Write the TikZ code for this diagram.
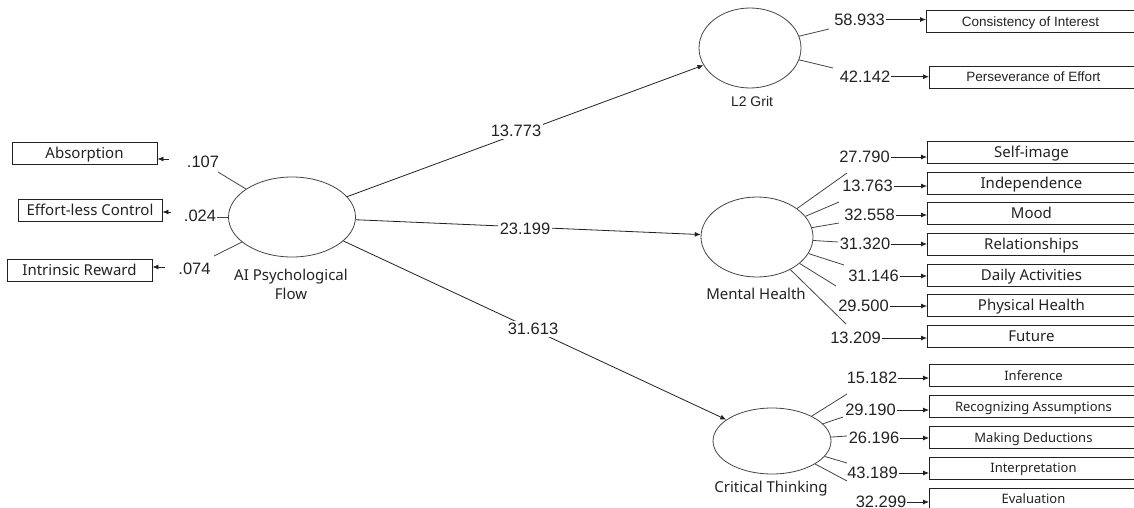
\documentclass[tikz,border=0pt]{standalone}
\usepackage{fontspec}
\setmainfont{Noto Sans}
\newfontfamily\arialf{Liberation Sans}
\usetikzlibrary{shapes.geometric,arrows.meta}
\definecolor{txt}{HTML}{222222}
\definecolor{ln}{HTML}{444444}
\begin{document}
\begin{tikzpicture}[x=1pt,y=-1pt,
  lat/.style={ellipse, draw=ln, line width=0.8pt, inner sep=0pt},
  lbox/.style={draw=txt, line width=0.9pt, inner sep=0pt, minimum height=22pt, text height=10.7pt, text depth=0pt, text=txt, font=\fontsize{15}{18}\selectfont},
  rbox/.style={draw=txt, line width=0.9pt, inner sep=0pt, minimum height=22pt, minimum width=208pt, anchor=west, text height=10.7pt, text depth=0pt, text=txt, font=\fontsize{15}{18}\selectfont},
  gbox/.style={rbox, text height=9.7pt, font=\arialf\fontsize{13.5}{16}\selectfont},
  cbox/.style={rbox, text height=9.3pt, font=\fontsize{13}{16}\selectfont},
  num/.style={inner sep=1pt, text=txt, font=\arialf\fontsize{16.5}{19}\selectfont},
  lab/.style={inner sep=0pt, text=txt, align=center, font=\fontsize{15}{19}\selectfont},
  arr/.style={-{Latex[length=6pt,width=5pt]}, draw=txt, line width=0.8pt},
  stub/.style={draw=ln, line width=0.8pt}
]
\useasboundingbox (0,0) rectangle (1134,508);
\clip (0,0) rectangle (1134,508);

% ---------- AI Psychological Flow ----------
\node[lat, minimum width=127pt, minimum height=80pt] (ai) at (292,217) {};
\node[lab] (ailab) at (291,284) {AI Psychological\\Flow};

\node[lbox, minimum width=145pt] (abs) at (84.5,153) {Absorption};
\node[lbox, minimum width=144pt] (elc) at (90,210) {Effort-less Control};
\node[lbox, minimum width=145pt] (ir) at (79.5,270) {Intrinsic Reward};

\node[num] (l1) at (203,162) {.107};
\node[num] (l2) at (200,216) {.024};
\node[num] (l3) at (194.5,269) {.074};

\coordinate (la1) at (169,159);
\coordinate (la2) at (171,212);
\coordinate (la3) at (165,267);
\draw[arr] (la1) -- (la1 -| abs.east);
\draw[arr] (la2) -- (la2 -| elc.east);
\draw[arr] (la3) -- (la3 -| ir.east);

\coordinate (ls1) at (218,172);
\coordinate (ls2) at (217,217);
\coordinate (ls3) at (214,256);
\draw[stub] (ai) -- (ls1);
\draw[stub] (ai) -- (ls2);
\draw[stub] (ai) -- (ls3);

% ---------- L2 Grit ----------
\node[lat, minimum width=102pt, minimum height=80pt] (grit) at (750,48) {};
\node[lab, font=\arialf\fontsize{14}{17}\selectfont] (gritlab) at (752,101) {L2 Grit};

\node[gbox] (ci) at (926,21.5) {Consistency of Interest};
\node[gbox] (pe) at (929,77) {Perseverance of Effort};
\node[num] (g1) at (859.5,19.5) {58.933};
\node[num] (g2) at (865,76.7) {42.142};
\draw[arr] (g1) -- (g1 -| ci.west);
\draw[arr] (g2) -- (g2 -| pe.west);
\coordinate (gs1) at (829,29);
\coordinate (gs2) at (833,68);
\draw[stub] (grit) -- (gs1);
\draw[stub] (grit) -- (gs2);

% ---------- Mental Health ----------
\node[lat, minimum width=112pt, minimum height=80pt] (mh) at (757,237) {};
\node[lab] (mhlab) at (756,294) {Mental Health};

\node[rbox] (b1) at (927,152) {Self-image};
\node[rbox] (b2) at (927,183) {Independence};
\node[rbox] (b3) at (927,213) {Mood};
\node[rbox] (b4) at (927,244) {Relationships};
\node[rbox] (b5) at (927,275) {Daily Activities};
\node[rbox] (b6) at (927,305) {Physical Health};
\node[rbox] (b7) at (927,336) {Future};

\node[num] (m1) at (864.5,157) {27.790};
\node[num] (m2) at (867.5,186) {13.763};
\node[num] (m3) at (869.5,215) {32.558};
\node[num] (m4) at (865,244) {31.320};
\node[num] (m5) at (873.5,276) {31.146};
\node[num] (m6) at (863.5,306) {29.500};
\node[num] (m7) at (855.5,338) {13.209};
\foreach \i in {1,...,7} {\draw[arr] (m\i) -- (m\i -| b\i.west);}

\coordinate (ms1) at (847,173);
\coordinate (ms2) at (839,202);
\coordinate (ms3) at (839,223);
\coordinate (ms4) at (838,242);
\coordinate (ms5) at (844,265);
\coordinate (ms6) at (836,286);
\coordinate (ms7) at (846,324);
\foreach \i in {1,...,7} {\draw[stub] (mh) -- (ms\i);}

% ---------- Critical Thinking ----------
\node[lat, minimum width=118pt, minimum height=66pt] (ct) at (772,441) {};
\node[lab] (ctlab) at (771,489) {Critical Thinking};

\node[cbox] (c1) at (929,375.5) {Inference};
\node[cbox] (c2) at (929,406.5) {Recognizing Assumptions};
\node[cbox] (c3) at (929,437.5) {Making Deductions};
\node[cbox] (c4) at (929,468) {Interpretation};
\node[cbox] (c5) at (929,499) {Evaluation};

\node[num] (k1) at (872,378) {15.182};
\node[num] (k2) at (870.5,410) {29.190};
\node[num] (k3) at (874,438) {26.196};
\node[num] (k4) at (872.5,473) {43.189};
\node[num] (k5) at (881,502) {32.299};
\foreach \i in {1,...,5} {\draw[arr] (k\i) -- (k\i -| c\i.west);}

\coordinate (cs1) at (847,394);
\coordinate (cs2) at (843,417);
\coordinate (cs3) at (847,436);
\coordinate (cs4) at (847,463);
\coordinate (cs5) at (847,481);
\foreach \i in {1,...,5} {\draw[stub] (ct) -- (cs\i);}

% ---------- Structural paths ----------
\draw[arr] (ai) -- (grit);
\draw[arr] (ai) -- (mh);
\draw[arr] (ai) -- (ct);
\node[num, fill=white, inner sep=2pt] (p1) at (516,131) {13.773};
\node[num, fill=white, inner sep=2pt] (p2) at (525,229) {23.199};
\node[num, fill=white, inner sep=2pt] (p3) at (533,329) {31.613};
\end{tikzpicture}
\end{document}
